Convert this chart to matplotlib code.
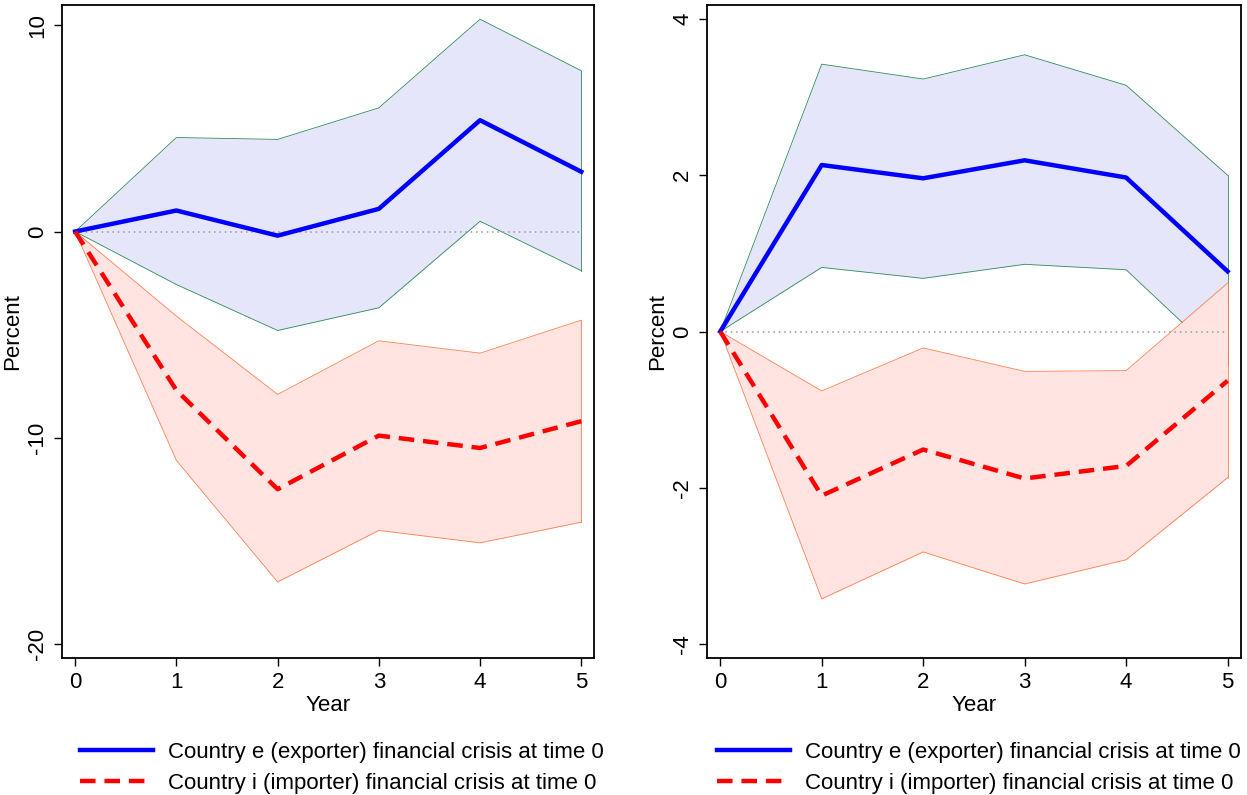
import matplotlib.pyplot as plt

plt.rcParams['font.family'] = ['Liberation Sans', 'DejaVu Sans']

years = [0, 1, 2, 3, 4, 5]

# left panel
left_exp = [0, 1.02, -0.2, 1.1, 5.4, 2.9]
left_exp_hi = [0, 4.56, 4.47, 6.0, 10.3, 7.8]
left_exp_lo = [0, -2.57, -4.8, -3.7, 0.5, -1.9]
left_imp = [0, -7.7, -12.5, -9.9, -10.5, -9.2]
left_imp_hi = [0, -4.1, -7.9, -5.3, -5.9, -4.3]
left_imp_lo = [0, -11.1, -17.0, -14.5, -15.1, -14.1]

# right panel
right_exp = [0, 2.13, 1.96, 2.19, 1.97, 0.77]
right_exp_hi = [0, 3.42, 3.23, 3.54, 3.15, 2.0]
right_exp_lo = [0, 0.82, 0.68, 0.86, 0.79, -0.43]
right_imp = [0, -2.1, -1.51, -1.88, -1.72, -0.63]
right_imp_hi = [0, -0.76, -0.21, -0.51, -0.5, 0.62]
right_imp_lo = [0, -3.42, -2.82, -3.23, -2.92, -1.87]

lab_exp = "Country e (exporter) financial crisis at time 0"
lab_imp = "Country i (importer) financial crisis at time 0"


def panel(ax, exp, exp_hi, exp_lo, imp, imp_hi, imp_lo, yticks, ylim, leg_x):
    ax.fill_between(years, exp_lo, exp_hi, color='#E6E6FA', lw=0, zorder=1)
    ax.plot(years, exp_hi, color='#2E8B57', lw=0.6, zorder=2)
    ax.plot(years, exp_lo, color='#2E8B57', lw=0.6, zorder=2)
    ax.plot([5, 5], [exp_lo[-1], exp_hi[-1]], color='#2E8B57', lw=0.6, zorder=2)
    ax.fill_between(years, imp_lo, imp_hi, color='#FFE4E1', lw=0, zorder=3)
    ax.plot(years, imp_hi, color='#FF7F50', lw=0.6, zorder=4)
    ax.plot(years, imp_lo, color='#FF7F50', lw=0.6, zorder=4)
    ax.plot([5, 5], [imp_lo[-1], imp_hi[-1]], color='#FF7F50', lw=0.6, zorder=4)
    ax.plot([0, 5], [0, 0], color='#999999', lw=1.1, ls=(0, (1, 2.5)), zorder=5)
    ax.plot(years, exp, color='#0000FF', lw=3.2, zorder=6, label=lab_exp,
            solid_joinstyle='round')
    ax.plot(years, imp, color='#FF0000', lw=3.2, ls=(0, (3.5, 2.0)), zorder=7,
            label=lab_imp)
    ax.set_xlim(-0.13, 5.13)
    ax.set_ylim(*ylim)
    ax.set_xticks(years)
    ax.set_yticks(yticks)
    ax.set_yticklabels([str(t) for t in yticks], rotation=90, va='center')
    ax.tick_params(labelsize=16, length=6, width=1, direction='out', pad=4)
    ax.set_xlabel("Year", fontsize=16, labelpad=1)
    ax.set_ylabel("Percent", fontsize=16, labelpad=3)
    for s in ax.spines.values():
        s.set_linewidth(1.3)
    ax.legend(loc='upper left', bbox_to_anchor=(leg_x, -0.097), frameon=False,
              fontsize=16, handlelength=3.3, handletextpad=0.65,
              labelspacing=0.45)


fig = plt.figure(figsize=(12.47, 7.95), dpi=100)
ax1 = fig.add_axes([0.0497, 0.172, 0.427, 0.822])
ax2 = fig.add_axes([0.567, 0.172, 0.428, 0.822])

panel(ax1, left_exp, left_exp_hi, left_exp_lo, left_imp, left_imp_hi, left_imp_lo,
      [-20, -10, 0, 10], (-20.7, 11.0), -0.004)
panel(ax2, right_exp, right_exp_hi, right_exp_lo, right_imp, right_imp_hi, right_imp_lo,
      [-4, -2, 0, 2, 4], (-4.18, 4.18), -0.019)

fig.savefig('out.png', dpi=100)
